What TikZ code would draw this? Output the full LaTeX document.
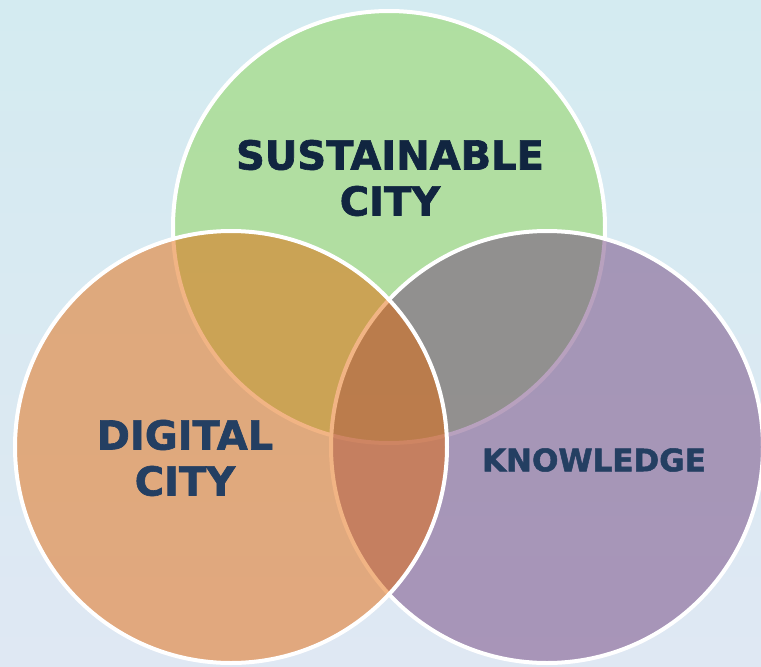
\documentclass[tikz,border=0pt]{standalone}
\usepackage{fontspec}
\setmainfont{DejaVu Sans}
\newfontfamily\heavyfont[FakeBold=1.6]{DejaVu Sans Bold}
\usetikzlibrary{positioning}

\definecolor{bgtop}{RGB}{212,235,241}
\definecolor{bgbot}{RGB}{223,232,243}
\definecolor{susgreen}{RGB}{140,212,82}
\definecolor{digorange}{RGB}{228,106,10}
\definecolor{knowpurple}{RGB}{114,68,126}
\definecolor{navydark}{RGB}{17,37,64}
\definecolor{navy}{RGB}{36,63,98}

\begin{document}
\begin{tikzpicture}[x=1pt,y=-1pt,
    set/.style={circle,draw=white,line width=4pt,fill opacity=0.5,minimum size=432pt,inner sep=0pt},
    settext/.style={font=\heavyfont\fontsize{40}{46}\selectfont,align=center,inner sep=0pt}]

\clip (0,0) rectangle (761,667);
\shade[top color=bgtop,bottom color=bgbot] (0,0) rectangle (761,667);

% the three sets, drawn in this order
\node[set,fill=susgreen]   (sus)  at (389,227) {};
\node[set,fill=knowpurple] (know) at (547,447) {};
\node[set,fill=digorange]  (dig)  at (231,447) {};

\node[settext,text=navydark] (sustxt)  at (390,178) {SUSTAINABLE\\CITY};
\node[settext,text=navy]     (digtxt)  at (185,458) {DIGITAL\\CITY};
\node[settext,text=navy,font=\heavyfont\fontsize{31}{31}\selectfont] (knowtxt) at (594,460) {KNOWLEDGE};
\end{tikzpicture}
\end{document}
